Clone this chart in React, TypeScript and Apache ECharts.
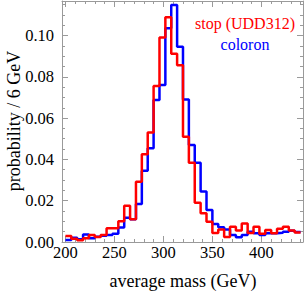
import React, { useEffect, useRef } from "react";
import * as echarts from "echarts";

// Bin edges: 6 GeV bins from 200 to 440 GeV
const binStart = 200;
const binWidth = 6;

const stopValues = [
  0.0029, 0.0016, 0.0008, 0.0018, 0.0034, 0.0024, 0.0034, 0.0066, 0.0066, 0.0100,
  0.0176, 0.0110, 0.0292, 0.0425, 0.0530, 0.0756, 0.0990, 0.1088, 0.0912, 0.0856,
  0.0510, 0.0384, 0.0190, 0.0139, 0.0098, 0.0044, 0.0060, 0.0024, 0.0074, 0.0056,
  0.0090, 0.0044, 0.0074, 0.0040, 0.0058, 0.0042, 0.0064, 0.0074, 0.0056, 0.0046,
];

const coloronValues = [
  0.0010, 0.0021, 0.0013, 0.0036, 0.0018, 0.0026, 0.0030, 0.0034, 0.0040, 0.0070,
  0.0118, 0.0110, 0.0184, 0.0345, 0.0454, 0.0688, 0.0760, 0.1035, 0.1148, 0.0946,
  0.0690, 0.0470, 0.0384, 0.0244, 0.0155, 0.0087, 0.0071, 0.0061, 0.0034, 0.0023,
  0.0034, 0.0050, 0.0042, 0.0034, 0.0042, 0.0042, 0.0045, 0.0050, 0.0055, 0.0048,
];

const xMajorTicks = [200, 250, 300, 350, 400];
const xMinorTicks = [
  200, 210, 220, 230, 240, 250, 260, 270, 280, 290, 300, 310, 320, 330, 340, 350,
  360, 370, 380, 390, 400, 410, 420, 430, 440,
];
const yMajorTicks = [0, 0.02, 0.04, 0.06, 0.08, 0.1];
const yMinorTicks = [
  0, 0.005, 0.01, 0.015, 0.02, 0.025, 0.03, 0.035, 0.04, 0.045, 0.05, 0.055, 0.06,
  0.065, 0.07, 0.075, 0.08, 0.085, 0.09, 0.095, 0.1, 0.105, 0.11, 0.115,
];

const seriesNames = ["stop (UDD312)", "coloron"];
const xTitle = "average mass (GeV)";
const yTitle = "probability / 6 GeV";

const FONT = "'Liberation Serif', 'Times New Roman', serif";
const FRAME = "#9a9a9a";

function toSteps(values: number[]) {
  const pts = values.map((v, i) => [binStart + i * binWidth, v]);
  pts.push([binStart + values.length * binWidth, values[values.length - 1]]);
  return pts;
}

export default function App() {
  const ref = useRef<HTMLDivElement>(null);
  useEffect(() => {
    if (!ref.current) return;
    const chart = echarts.init(ref.current, undefined, { renderer: "svg" });
    const xMin = 196.5;
    const xMax = 442.5;
    const yMin = 0;
    const yMax = 0.1167;

    const xAxisBase = (pos: "top" | "bottom", ticks: number[], len: number, labels: boolean, line: boolean) => ({
      type: "value",
      position: pos,
      min: xMin,
      max: xMax,
      axisLine: { show: line, onZero: false, lineStyle: { color: FRAME, width: 1 } },
      axisTick: { show: true, inside: true, length: len, customValues: ticks, lineStyle: { color: FRAME, width: 1 } },
      axisLabel: labels
        ? { show: true, customValues: ticks, margin: 2, color: "#000", fontFamily: FONT, fontSize: 16.5, formatter: (v: number) => String(Math.round(v)) }
        : { show: false },
      splitLine: { show: false },
    });
    const yAxisBase = (pos: "left" | "right", ticks: number[], len: number, labels: boolean, line: boolean) => ({
      type: "value",
      position: pos,
      min: yMin,
      max: yMax,
      axisLine: { show: line, onZero: false, lineStyle: { color: FRAME, width: 1 } },
      axisTick: { show: true, inside: true, length: len, customValues: ticks, lineStyle: { color: FRAME, width: 1 } },
      axisLabel: labels
        ? { show: true, customValues: ticks, margin: 8, color: "#000", fontFamily: FONT, fontSize: 16.5, formatter: (v: number) => v.toFixed(2) }
        : { show: false },
      splitLine: { show: false },
    });

    chart.setOption({
      animation: false,
      grid: { left: 62, right: 1, top: 1, bottom: 51, containLabel: false },
      xAxis: [
        xAxisBase("bottom", xMajorTicks, 6, true, true),
        xAxisBase("bottom", xMinorTicks, 3, false, false),
        xAxisBase("top", xMajorTicks, 6, false, true),
        xAxisBase("top", xMinorTicks, 3, false, false),
      ],
      yAxis: [
        yAxisBase("left", yMajorTicks, 6, true, true),
        yAxisBase("left", yMinorTicks, 3, false, false),
        yAxisBase("right", yMajorTicks, 6, false, true),
        yAxisBase("right", yMinorTicks, 3, false, false),
      ],
      series: [
        {
          name: seriesNames[1],
          type: "line",
          step: "end",
          data: toSteps(coloronValues),
          showSymbol: false,
          lineStyle: { color: "#0000ff", width: 2.5 },
          itemStyle: { color: "#0000ff" },
          xAxisIndex: 0,
          yAxisIndex: 0,
          z: 2,
        },
        {
          name: seriesNames[0],
          type: "line",
          step: "end",
          data: toSteps(stopValues),
          showSymbol: false,
          lineStyle: { color: "#ff0000", width: 2.5 },
          itemStyle: { color: "#ff0000" },
          xAxisIndex: 0,
          yAxisIndex: 0,
          z: 3,
        },
      ],
      graphic: [
        {
          type: "text",
          x: 245,
          y: 23,
          style: { text: seriesNames[0], fill: "#ff0000", font: `16px ${FONT}`, textAlign: "center", textVerticalAlign: "middle" },
        },
        {
          type: "text",
          x: 245,
          y: 44,
          style: { text: seriesNames[1], fill: "#0000ff", font: `16px ${FONT}`, textAlign: "center", textVerticalAlign: "middle" },
        },
        {
          type: "text",
          x: 183,
          y: 281,
          style: { text: xTitle, fill: "#000", font: `18px ${FONT}`, textAlign: "center", textVerticalAlign: "middle" },
        },
        {
          type: "text",
          x: 14,
          y: 121,
          rotation: Math.PI / 2,
          style: { text: yTitle, fill: "#000", font: `18px ${FONT}`, textAlign: "center", textVerticalAlign: "middle" },
        },
      ],
    });
    return () => chart.dispose();
  }, []);
  return <div ref={ref} style={{ width: 304, height: 293, position: "absolute", left: 0, top: 0 }} />;
}
